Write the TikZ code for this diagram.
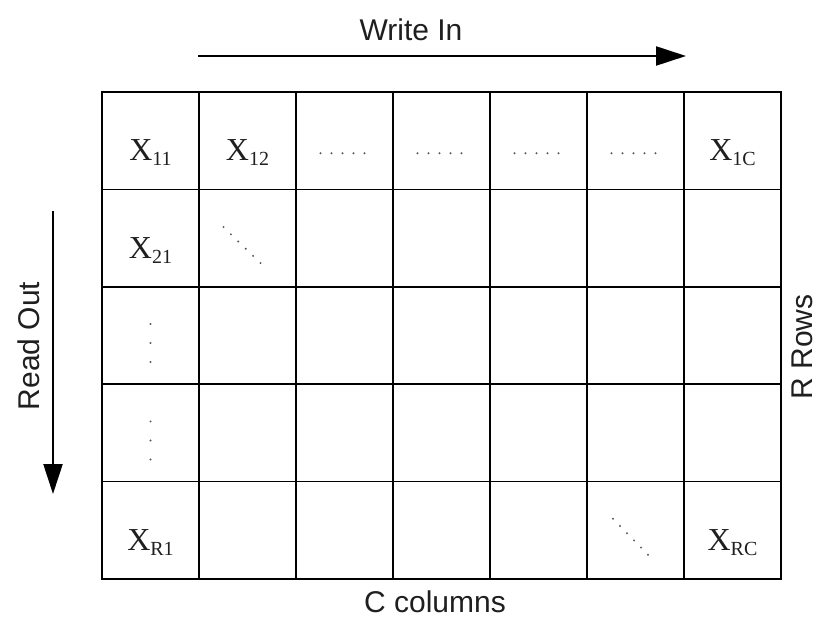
\documentclass[tikz,border=0pt]{standalone}
\usepackage{fontspec}
\setmainfont{Liberation Serif}
\newfontfamily\labelsans{Liberation Sans}
\usetikzlibrary{arrows.meta}

% element label: X with a lowered index
\newcommand\xsub[1]{{\fontsize{32}{32}\selectfont X}\raisebox{-5pt}{\fontsize{20}{20}\selectfont #1}}

\begin{document}
\begin{tikzpicture}[x=1pt,y=-1pt,
  cell/.style={draw=black,line width=1.6pt,minimum width=97pt,minimum height=97.4pt,inner sep=0pt,outer sep=0pt},
  elem/.style={text=black!88,inner sep=0pt},
  caption/.style={font=\labelsans\fontsize{30}{30}\selectfont,text=black!88,inner sep=0pt},
  flow/.style={line width=2.2pt,-{Triangle[length=30pt,width=19pt]}},
  dotc/.style={fill=black!65}
]
\useasboundingbox (0,0) rectangle (818,617);

% grid of R rows and C columns
\foreach \r in {1,...,5}{
  \foreach \c in {1,...,7}{
    \node[cell] (c\r\c) at ({102+97*(\c-0.5)},{92+97.4*(\r-0.5)}) {};
  }
}

% element labels
\node[elem] (x11) at ([yshift=-12pt]c11.center) {\xsub{11}};
\node[elem] (x12) at ([yshift=-12pt]c12.center) {\xsub{12}};
\node[elem] (x1c) at ([yshift=-12pt]c17.center) {\xsub{1C}};
\node[elem] (x21) at ([yshift=-12pt]c21.center) {\xsub{21}};
\node[elem] (xr1) at ([yshift=-12pt]c51.center) {\xsub{R1}};
\node[elem] (xrc) at ([yshift=-12pt]c57.center) {\xsub{RC}};

% horizontal ellipses in the first row
\foreach \c in {3,...,6}{
  \foreach \k in {0,...,4}{
    \fill[dotc] ([xshift={-24+11*\k},yshift=-12.5]c1\c.center) circle (1.1pt);
  }
}
% vertical ellipses in the first column
\foreach \r in {3,4}{
  \foreach \k in {0,...,2}{
    \fill[dotc] ([yshift={11.5-19*\k}]c\r1.center) circle (1.1pt);
  }
}
% diagonal ellipses
\foreach \k in {0,...,5}{
  \fill[dotc] ([xshift={-24+7.4*\k},yshift={11-7.2*\k}]c22.center) circle (1.1pt);
  \fill[dotc] ([xshift={-22.5+7*\k},yshift={11.5-7.2*\k}]c56.center) circle (1.1pt);
}

% direction arrows
\coordinate (wstart) at (198,56);
\coordinate (wend) at (686,56);
\draw[flow] (wstart) -- (wend);
\coordinate (rstart) at (53,211);
\coordinate (rend) at (53,494);
\draw[flow] (rstart) -- (rend);

% captions
\node[caption,anchor=base] (write) at (411,41) {Write In};
\node[caption,anchor=base,rotate=90] (read) at (39,346) {Read Out};
\node[caption,anchor=base,rotate=90] (rows) at (812,347) {R Rows};
\node[caption,anchor=base] (cols) at (435,612) {C columns};
\end{tikzpicture}
\end{document}
